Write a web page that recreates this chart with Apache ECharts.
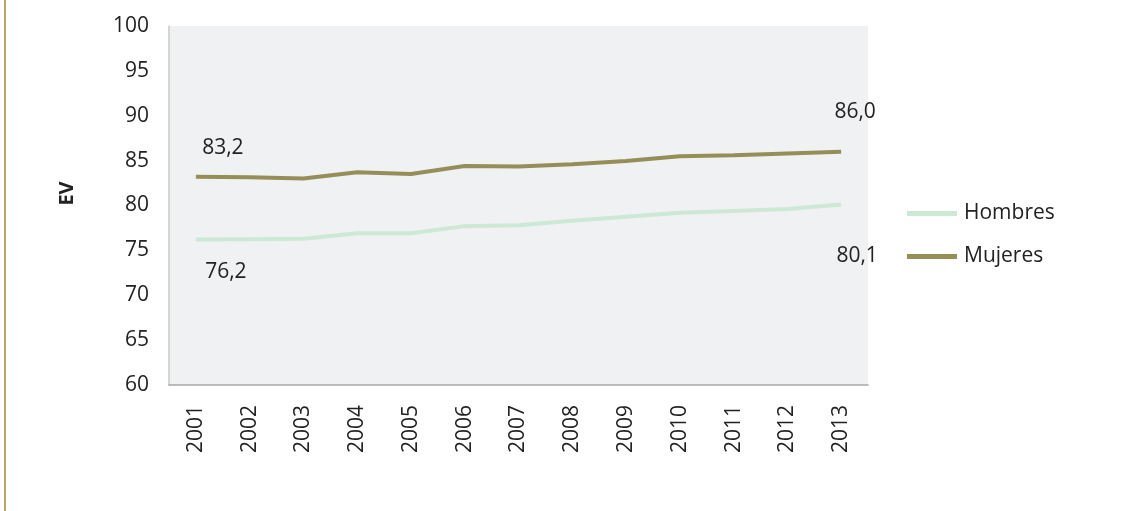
<!DOCTYPE html>
<html>
<head>
<meta charset="utf-8">
<script src="https://cdn.jsdelivr.net/npm/echarts@6/dist/echarts.min.js"></script>
<style>
html,body{margin:0;padding:0;background:#fff;}
#frame{position:absolute;left:4px;top:0;width:2px;height:511px;background:#bda762;}
#chart{width:1127px;height:511px;}
</style>
</head>
<body>
<div id="frame"></div>
<div id="chart"></div>
<script>
const years = ['2001','2002','2003','2004','2005','2006','2007','2008','2009','2010','2011','2012','2013'];
const hombres = [76.2, 76.25, 76.3, 76.9, 76.9, 77.7, 77.8, 78.3, 78.75, 79.2, 79.4, 79.6, 80.1];
const mujeres = [83.2, 83.15, 83.0, 83.7, 83.5, 84.4, 84.35, 84.6, 84.95, 85.5, 85.6, 85.8, 86.0];
const yTicks = [60, 65, 70, 75, 80, 85, 90, 95, 100];

const font = '"Open Sans", Lato, sans-serif';
const fs = 21;
const fmt = v => v.toFixed(1).replace('.', ',');

function labelled(data, firstOffset, lastOffset) {
  return data.map((v, i) => {
    if (i === 0 || i === data.length - 1) {
      const off = i === 0 ? firstOffset : lastOffset;
      return {
        value: v,
        label: {
          show: true, position: 'inside', offset: off,
          formatter: p => fmt(p.value),
          fontFamily: font, fontSize: fs, color: '#222'
        }
      };
    }
    return v;
  });
}

const chart = echarts.init(document.getElementById('chart'));
chart.setOption({
  animation: false,
  textStyle: { fontFamily: font },
  grid: { left: 169, top: 26, width: 699, height: 359, backgroundColor: '#f0f1f3', show: true, borderWidth: 0 },
  legend: {
    orient: 'vertical', left: 902, top: 198, itemWidth: 50, itemHeight: 5, itemGap: 22,
    icon: 'rect',
    textStyle: { fontFamily: font, fontSize: fs, color: '#222', padding: [0, 0, 0, 2] },
    data: ['Hombres', 'Mujeres']
  },
  xAxis: {
    type: 'category', data: years, boundaryGap: true,
    axisLine: { lineStyle: { color: '#a6a6a6', width: 1.5 } },
    axisTick: { show: false },
    axisLabel: { rotate: 90, margin: 20, fontFamily: font, fontSize: fs, color: '#222' }
  },
  yAxis: {
    type: 'value', min: yTicks[0], max: yTicks[yTicks.length - 1], interval: 5,
    name: 'EV', nameLocation: 'middle', nameGap: 92, nameRotate: 90,
    nameTextStyle: { fontFamily: font, fontSize: 20, fontWeight: 'bold', color: '#222', padding: [0, 0, 0, 24] },
    axisLine: { show: true, lineStyle: { color: '#c8c8c8', width: 1.5 } },
    axisTick: { show: false },
    splitLine: { show: false },
    axisLabel: { margin: 20, fontFamily: font, fontSize: fs, color: '#222' }
  },
  series: [
    {
      name: 'Hombres', type: 'line', data: labelled(hombres, [30, 32], [16, 51]),
      symbol: 'circle', symbolSize: 0, showSymbol: true,
      lineStyle: { width: 4, color: '#cde8d5' }, itemStyle: { color: '#cde8d5' }
    },
    {
      name: 'Mujeres', type: 'line', data: labelled(mujeres, [27, -29], [14, -40]),
      symbol: 'circle', symbolSize: 0, showSymbol: true,
      lineStyle: { width: 4, color: '#968e58' }, itemStyle: { color: '#968e58' }
    }
  ]
});
</script>
</body>
</html>
